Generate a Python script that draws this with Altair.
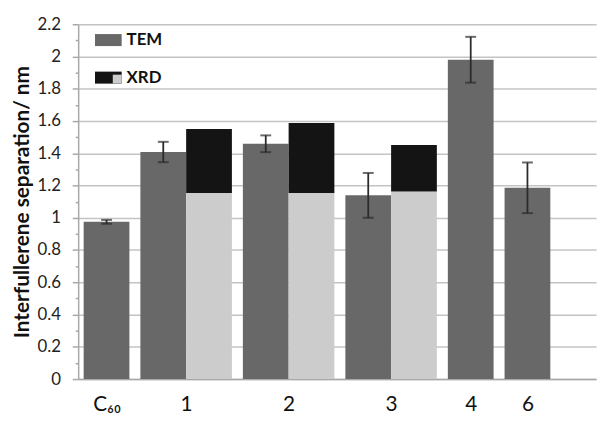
import altair as alt
import pandas as pd

# ---- data ----
categories = ["C60", "1", "2", "3", "4", "6"]
cat_labels = ["C\u2086\u2080", "1", "2", "3", "4", "6"]
tem_values = [0.975, 1.408, 1.459, 1.139, 1.980, 1.186]
tem_errors = [0.012, 0.063, 0.052, 0.139, 0.142, 0.157]
xrd_base = [None, 1.153, 1.153, 1.163, None, None]
xrd_total = [None, 1.551, 1.588, 1.451, None, None]
y_tick_values = [round(i * 0.1, 1) for i in range(23)]

# ---- layout in bar-width units (derived, not data) ----
LEAD, GAP, TAIL = 0.12, 0.24, 1.0
bar_rows, err_rows, centers = [], [], []
pos = LEAD
for i, cat in enumerate(categories):
    if i > 0:
        pos += GAP
    start = pos
    bar_rows.append(dict(cat=cat, part="TEM", x0=pos, x1=pos + 1, y0=0.0, y1=tem_values[i]))
    err_rows.append(dict(cat=cat, x0=pos + 0.5,
                         y0=tem_values[i] - tem_errors[i], y1=tem_values[i] + tem_errors[i]))
    pos += 1
    if xrd_total[i] is not None:
        bar_rows.append(dict(cat=cat, part="XRD base", x0=pos, x1=pos + 1, y0=0.0, y1=xrd_base[i]))
        bar_rows.append(dict(cat=cat, part="XRD", x0=pos, x1=pos + 1, y0=xrd_base[i], y1=xrd_total[i]))
        pos += 1
    centers.append(round((start + pos) / 2, 4))
x_max = pos + TAIL

bars_df = pd.DataFrame(bar_rows)
err_df = pd.DataFrame(err_rows)
legend_df = pd.DataFrame([dict(part="XRD base", x0=0.0, y0=-1.0)])

# label expression mapping tick positions to category labels
expr = "''"
for c, lab in reversed(list(zip(centers, cat_labels))):
    expr = f"(abs(datum.value - {c}) < 0.01 ? '{lab}' : {expr})"

FONT = "Lato"
xscale = alt.Scale(domain=[0, x_max], nice=False, zero=False)
yscale = alt.Scale(domain=[0, 2.2], nice=False)

x_axis = alt.Axis(values=centers, labelExpr=expr, ticks=False, grid=False,
                  domainColor="#a8a8a8", domainWidth=1.5, labelFont=FONT,
                  labelFontSize=21, labelColor="#111111", labelPadding=15,
                  labelOverlap=False, title=None)

y_axis = alt.Axis(values=y_tick_values,
                  labelExpr="round(datum.value*10) % 2 == 0 ? format(datum.value, '.1~f') : ''",
                  labelOverlap=False, labelFont=FONT, labelFontSize=17, labelColor="#222222",
                  labelPadding=12,
                  tickSize={"condition": {"test": "round(datum.value*10) % 2 == 1", "value": 3}, "value": 6},
                  tickColor="#a8a8a8", tickWidth=1.5,
                  domainColor="#a8a8a8", domainWidth=1.5,
                  grid=True, gridColor="#c4c4c4", gridWidth=1.5,
                  gridOpacity={"condition": {"test": "round(datum.value*10) % 2 == 1", "value": 0}, "value": 1},
                  title="Interfullerene separation/ nm", titleFont=FONT, titleFontSize=21,
                  titleFontWeight="bold", titleColor="#111111", titlePadding=5)

X = alt.X("x0:Q", scale=xscale, axis=x_axis)
Y = alt.Y("y0:Q", scale=yscale, axis=y_axis)

bars = alt.Chart(bars_df).mark_bar().encode(
    x=X, x2="x1:Q", y=Y, y2="y1:Q",
    color=alt.Color("part:N",
                    scale=alt.Scale(domain=["TEM", "XRD", "XRD base"],
                                    range=["#686868", "#141414", "#cccccc"]),
                    legend=alt.Legend(values=["TEM", "XRD"], orient="none", legendX=17, legendY=2.5,
                                      title=None, symbolType="M-1,-0.45H1V0.45H-1Z", symbolSize=729,
                                      symbolStrokeWidth=0, labelFont=FONT, labelFontWeight="bold",
                                      labelFontSize=17, labelColor="#111111", rowPadding=16,
                                      padding=0, symbolOffset=0, labelOffset=5, zindex=1)),
)

err_line = alt.Chart(err_df).mark_rule(color="#2b2b2b", strokeWidth=1.8).encode(
    x=X, y=Y, y2="y1:Q",
)
err_lo = alt.Chart(err_df).mark_tick(color="#2b2b2b", orient="horizontal", size=11, thickness=2).encode(
    x=X, y=Y,
)
err_hi = alt.Chart(err_df).mark_tick(color="#2b2b2b", orient="horizontal", size=11, thickness=2).encode(
    x=X, y=alt.Y("y1:Q", scale=yscale, axis=y_axis),
)

legend_half = alt.Chart(legend_df).mark_point(filled=True, color="#cccccc", opacity=1, clip=True).encode(
    x=X, y=Y,
    shape=alt.Shape("part:N",
                    scale=alt.Scale(domain=["XRD base"], range=["M-1,-1H1V1H-1Z"]),
                    legend=alt.Legend(orient="none", legendX=35, legendY=51, title=None,
                                      symbolSize=81, symbolStrokeWidth=0, symbolFillColor="#cccccc",
                                      labelExpr="''", labelFontSize=1, padding=0, symbolOffset=0,
                                      zindex=2)),
)

chart = alt.layer(bars, err_line, err_lo, err_hi, legend_half).properties(
    width=524, height=359,
    padding={"left": 71, "top": 14, "right": 6, "bottom": 42},
    autosize=alt.AutoSizeParams(type="none"),
    background="white",
).configure_view(stroke=None)

chart.save("out.html", embed_options={"renderer": "svg", "actions": False})
